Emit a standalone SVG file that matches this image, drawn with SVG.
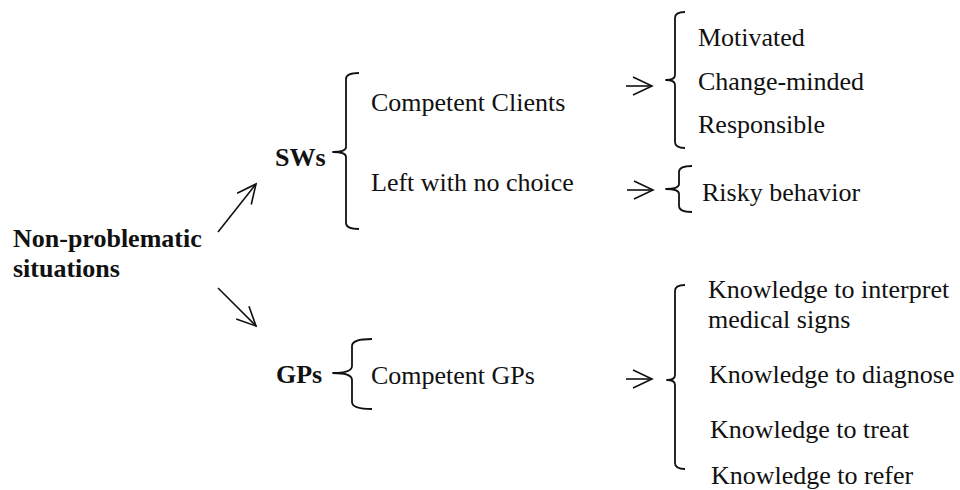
<svg xmlns="http://www.w3.org/2000/svg" width="960" height="490" viewBox="0 0 960 490">
  <style>
    text { font-family: "Liberation Serif", "Times New Roman", serif; font-size: 26px; fill: #111; }
    .b { font-weight: bold; }
    .brace { fill: none; stroke: #111; stroke-width: 1.8; stroke-linejoin: round; }
    .arr { fill: none; stroke: #111; stroke-width: 1.6; }
  </style>
  <defs>
    <marker id="vhead" viewBox="-22 -12 24 24" markerWidth="24" markerHeight="24" refX="0" refY="0" markerUnits="userSpaceOnUse" orient="auto" overflow="visible">
      <path d="M-19,-9 L0,0 L-19,9" fill="none" stroke="#111" stroke-width="1.6"/>
    </marker>
  </defs>
  <rect width="960" height="490" fill="#fff"/>

  <g id="root">
    <text class="b" x="13" y="247">Non-problematic</text>
    <text class="b" x="13" y="277">situations</text>
  </g>

  <g id="sws">
    <text class="b" x="275" y="166">SWs</text>
    <path class="brace" d="M359,73 Q346,73 346,79 L346,147 Q346,152 333,152 Q346,152 346,157 L346,223 Q346,229 359,229"/>
  </g>
  <g id="competent-clients">
    <text x="371" y="111">Competent Clients</text>
  </g>
  <g id="left-no-choice">
    <text x="371" y="191">Left with no choice</text>
  </g>
  <g id="client-traits">
    <path class="brace" d="M685,12 Q675,12 675,18 L675,75 Q675,80 666,80 Q675,80 675,85 L675,142 Q675,148 685,148"/>
    <text x="698" y="46">Motivated</text>
    <text x="698" y="90">Change-minded</text>
    <text x="698" y="133">Responsible</text>
  </g>
  <g id="risky">
    <path class="brace" d="M692,166 Q679,166 679,172 L679,184 Q679,189 666,189 Q679,189 679,194 L679,206 Q679,212 692,212"/>
    <text x="702" y="201">Risky behavior</text>
  </g>

  <g id="gps">
    <text class="b" x="276" y="383">GPs</text>
    <path class="brace" d="M372,339 Q352,339 352,346 L352,366 Q352,373 333,373 Q352,373 352,380 L352,402 Q352,409 372,409"/>
  </g>
  <g id="competent-gps">
    <text x="371" y="384">Competent GPs</text>
  </g>
  <g id="knowledge">
    <path class="brace" d="M685,285 Q675,285 675,291 L675,375 Q675,380 667,380 Q675,380 675,385 L675,463 Q675,469 685,469"/>
    <text x="708" y="298">Knowledge to interpret</text>
    <text x="708" y="328">medical signs</text>
    <text x="709" y="383">Knowledge to diagnose</text>
    <text x="710" y="438">Knowledge to treat</text>
    <text x="711" y="484">Knowledge to refer</text>
  </g>

  <g id="connectors">
    <line class="arr" x1="218" y1="232" x2="256" y2="184" marker-end="url(#vhead)"/>
    <line class="arr" x1="218" y1="288" x2="256" y2="326" marker-end="url(#vhead)"/>
    <line class="arr" x1="626" y1="86" x2="652" y2="86" marker-end="url(#vhead)"/>
    <line class="arr" x1="627" y1="190" x2="653" y2="190" marker-end="url(#vhead)"/>
    <line class="arr" x1="626" y1="379" x2="652" y2="379" marker-end="url(#vhead)"/>
  </g>
</svg>
